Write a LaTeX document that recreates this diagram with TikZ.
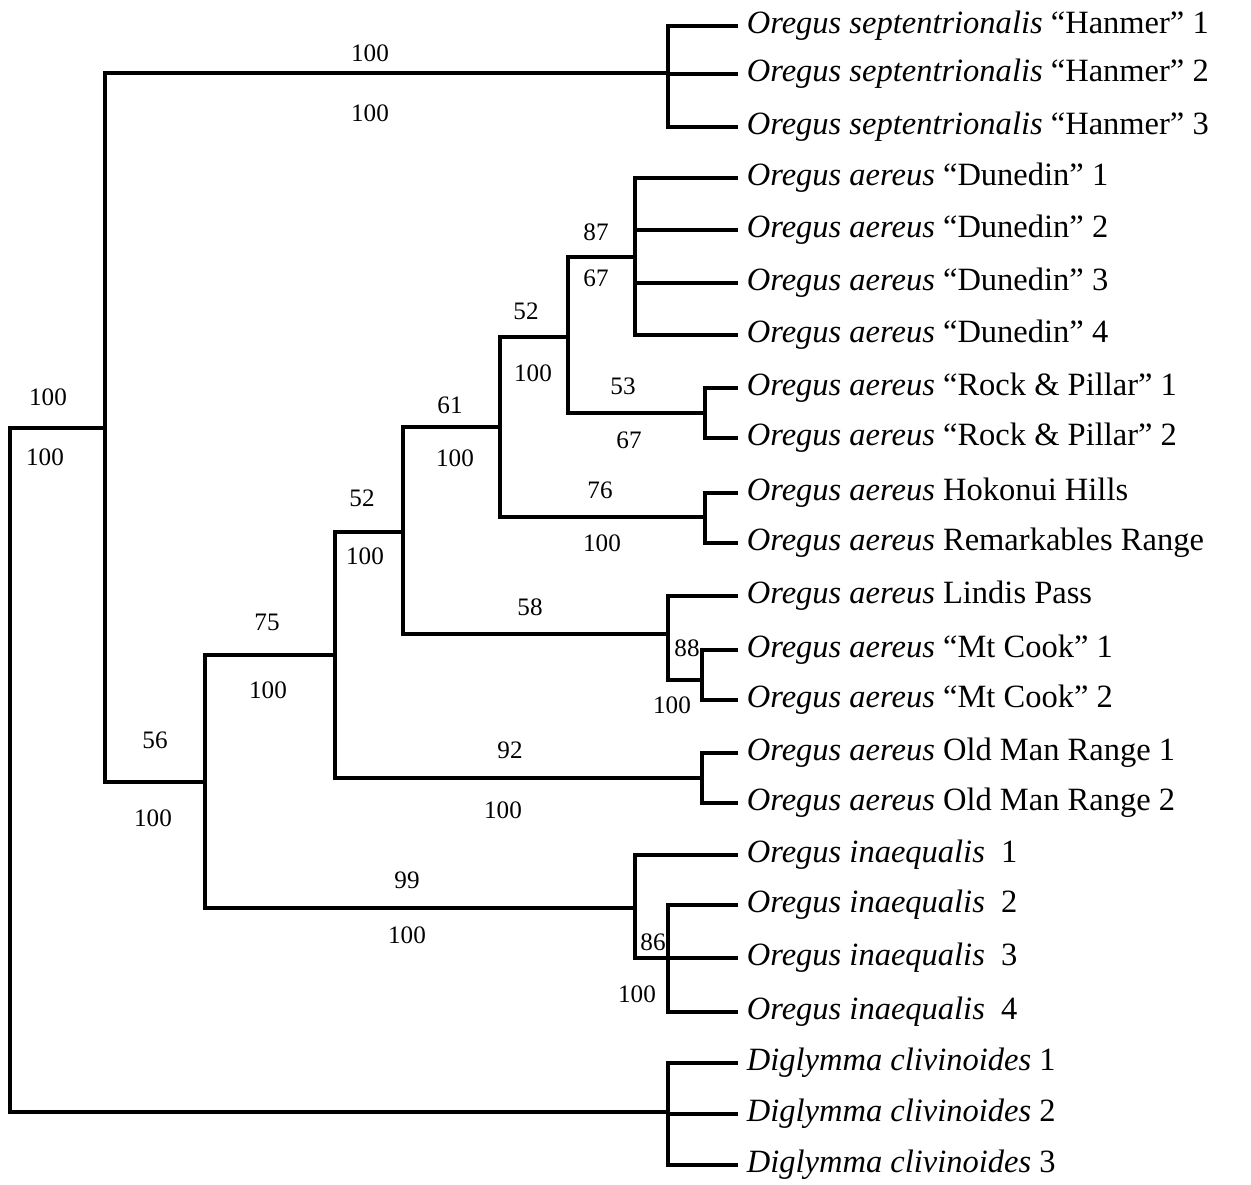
\documentclass[tikz,border=0pt]{standalone}
\usepackage{fontspec}
\setmainfont{Liberation Serif}
\begin{document}
\begin{tikzpicture}[x=0.02cm,y=-0.02cm,
  branche/.style={line width=2.1pt,line cap=rect},
  taxon/.style={anchor=west,inner ysep=0pt,inner xsep=6pt,font=\fontsize{18.5}{20}\selectfont},
  boot/.style={inner sep=0pt,font=\fontsize{14.3}{16}\selectfont}]
  \useasboundingbox (0,0) rectangle (1251,1184);
  % Noeuds internes
  \coordinate (r) at (10,428);
  \coordinate (a) at (105,428);
  \coordinate (hanm) at (668,73);
  \coordinate (b) at (205,782);
  \coordinate (c) at (335,655);
  \coordinate (d) at (403,532);
  \coordinate (e) at (500,427);
  \coordinate (f) at (568,337);
  \coordinate (dune) at (635,257);
  \coordinate (rock) at (705,413);
  \coordinate (hoko) at (705,517);
  \coordinate (lind) at (668,634);
  \coordinate (mtc) at (702,680);
  \coordinate (omr) at (702,778);
  \coordinate (inae) at (635,908);
  \coordinate (inb) at (668,958);
  \coordinate (dig) at (668,1112);

  % Taxons
  \node[taxon] (l1) at (736,26) {\textit{Oregus septentrionalis} “Hanmer” 1};
  \node[taxon] (l2) at (736,74) {\textit{Oregus septentrionalis} “Hanmer” 2};
  \node[taxon] (l3) at (736,127) {\textit{Oregus septentrionalis} “Hanmer” 3};
  \node[taxon] (l4) at (736,178) {\textit{Oregus aereus} “Dunedin” 1};
  \node[taxon] (l5) at (736,230) {\textit{Oregus aereus} “Dunedin” 2};
  \node[taxon] (l6) at (736,283) {\textit{Oregus aereus} “Dunedin” 3};
  \node[taxon] (l7) at (736,335) {\textit{Oregus aereus} “Dunedin” 4};
  \node[taxon] (l8) at (736,388) {\textit{Oregus aereus} “Rock \& Pillar” 1};
  \node[taxon] (l9) at (736,438) {\textit{Oregus aereus} “Rock \& Pillar” 2};
  \node[taxon] (l10) at (736,493) {\textit{Oregus aereus} Hokonui Hills};
  \node[taxon] (l11) at (736,543) {\textit{Oregus aereus} Remarkables Range};
  \node[taxon] (l12) at (736,596) {\textit{Oregus aereus} Lindis Pass};
  \node[taxon] (l13) at (736,650) {\textit{Oregus aereus} “Mt Cook” 1};
  \node[taxon] (l14) at (736,700) {\textit{Oregus aereus} “Mt Cook” 2};
  \node[taxon] (l15) at (736,753) {\textit{Oregus aereus} Old Man Range 1};
  \node[taxon] (l16) at (736,803) {\textit{Oregus aereus} Old Man Range 2};
  \node[taxon] (l17) at (736,855) {\textit{Oregus inaequalis}~ 1};
  \node[taxon] (l18) at (736,905) {\textit{Oregus inaequalis}~ 2};
  \node[taxon] (l19) at (736,958) {\textit{Oregus inaequalis}~ 3};
  \node[taxon] (l20) at (736,1012) {\textit{Oregus inaequalis}~ 4};
  \node[taxon] (l21) at (736,1063) {\textit{Diglymma clivinoides} 1};
  \node[taxon] (l22) at (736,1114) {\textit{Diglymma clivinoides} 2};
  \node[taxon] (l23) at (736,1165) {\textit{Diglymma clivinoides} 3};

  % Branches internes
  \draw[branche] (r) |- (a);
  \draw[branche] (r) |- (dig);
  \draw[branche] (a) |- (hanm);
  \draw[branche] (a) |- (b);
  \draw[branche] (b) |- (c);
  \draw[branche] (b) |- (inae);
  \draw[branche] (c) |- (d);
  \draw[branche] (c) |- (omr);
  \draw[branche] (d) |- (e);
  \draw[branche] (d) |- (lind);
  \draw[branche] (e) |- (f);
  \draw[branche] (e) |- (hoko);
  \draw[branche] (f) |- (dune);
  \draw[branche] (f) |- (rock);
  \draw[branche] (lind) |- (mtc);
  \draw[branche] (inae) |- (inb);

  % Branches terminales
  \draw[branche] (hanm) |- (l1.west);
  \draw[branche] (hanm) |- (l2.west);
  \draw[branche] (hanm) |- (l3.west);
  \draw[branche] (dune) |- (l4.west);
  \draw[branche] (dune) |- (l5.west);
  \draw[branche] (dune) |- (l6.west);
  \draw[branche] (dune) |- (l7.west);
  \draw[branche] (rock) |- (l8.west);
  \draw[branche] (rock) |- (l9.west);
  \draw[branche] (hoko) |- (l10.west);
  \draw[branche] (hoko) |- (l11.west);
  \draw[branche] (lind) |- (l12.west);
  \draw[branche] (mtc) |- (l13.west);
  \draw[branche] (mtc) |- (l14.west);
  \draw[branche] (omr) |- (l15.west);
  \draw[branche] (omr) |- (l16.west);
  \draw[branche] (inae) |- (l17.west);
  \draw[branche] (inb) |- (l18.west);
  \draw[branche] (inb) |- (l19.west);
  \draw[branche] (inb) |- (l20.west);
  \draw[branche] (dig) |- (l21.west);
  \draw[branche] (dig) |- (l22.west);
  \draw[branche] (dig) |- (l23.west);

  % Valeurs de soutien (dessus / dessous)
  \node[boot] (sa1) at (48,397) {100};   \node[boot] (sa2) at (45,457) {100};
  \node[boot] (sh1) at (370,53) {100};   \node[boot] (sh2) at (370,113) {100};
  \node[boot] (sb1) at (155,740) {56};   \node[boot] (sb2) at (153,818) {100};
  \node[boot] (sc1) at (267,622) {75};   \node[boot] (sc2) at (268,690) {100};
  \node[boot] (sd1) at (362,498) {52};   \node[boot] (sd2) at (365,556) {100};
  \node[boot] (se1) at (450,405) {61};   \node[boot] (se2) at (455,458) {100};
  \node[boot] (sf1) at (526,311) {52};   \node[boot] (sf2) at (533,373) {100};
  \node[boot] (sg1) at (596,232) {87};   \node[boot] (sg2) at (596,278) {67};
  \node[boot] (sr1) at (623,386) {53};   \node[boot] (sr2) at (629,440) {67};
  \node[boot] (sk1) at (600,490) {76};   \node[boot] (sk2) at (602,543) {100};
  \node[boot] (sl1) at (530,607) {58};
  \node[boot] (sm1) at (687,648) {88};   \node[boot] (sm2) at (672,705) {100};
  \node[boot] (so1) at (510,750) {92};   \node[boot] (so2) at (503,810) {100};
  \node[boot] (si1) at (407,880) {99};   \node[boot] (si2) at (407,935) {100};
  \node[boot] (sj1) at (653,942) {86};   \node[boot] (sj2) at (637,994) {100};
\end{tikzpicture}
\end{document}
